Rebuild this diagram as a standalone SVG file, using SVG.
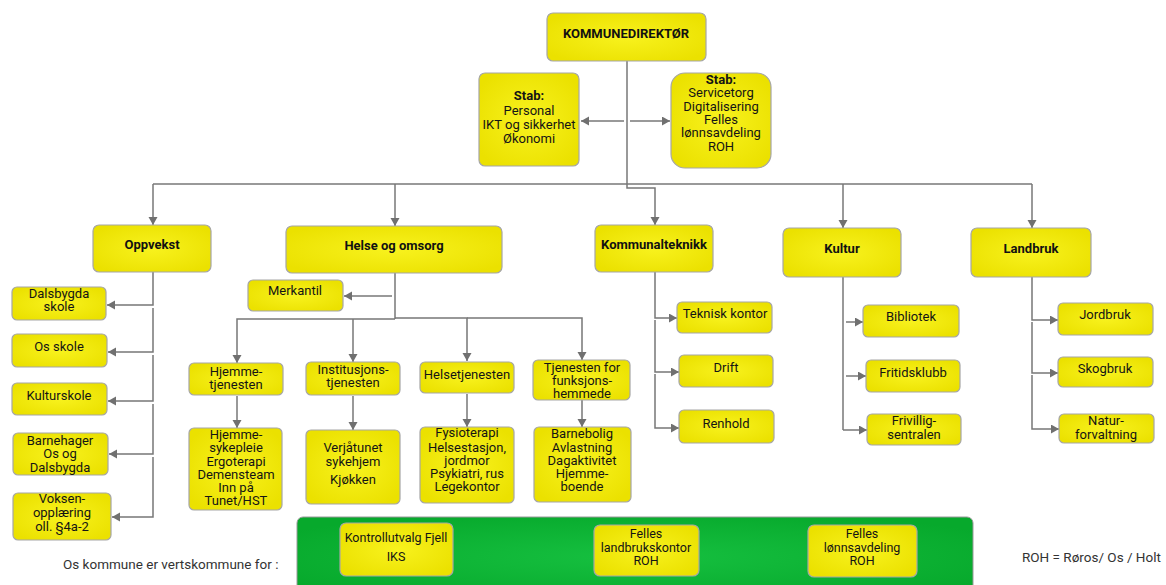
<svg xmlns="http://www.w3.org/2000/svg" width="1166" height="585" viewBox="0 0 1166 585">
<defs>
<radialGradient id="yg" cx="50%" cy="50%" r="60%">
<stop offset="0" stop-color="#f8f21e"/>
<stop offset="1" stop-color="#ebe100"/>
</radialGradient>
<radialGradient id="gg" cx="50%" cy="50%" r="60%">
<stop offset="0" stop-color="#16c040"/>
<stop offset="1" stop-color="#07a92c"/>
</radialGradient>
<marker id="ah" markerUnits="userSpaceOnUse" markerWidth="10" markerHeight="10" refX="8" refY="4.5" orient="auto">
<path d="M0,0 L8,4.5 L0,9 z" fill="#707070"/>
</marker>
<style>
.b{fill:url(#yg);stroke:#a6a6a6;stroke-width:1.2}
.t{font-family:Roboto,'Liberation Sans',sans-serif;font-size:13px;fill:#141414;text-anchor:middle}
.h{font-family:Roboto,'Liberation Sans',sans-serif;font-size:13px;font-weight:bold;fill:#111;text-anchor:middle}
.s{font-family:Roboto,'Liberation Sans',sans-serif;font-size:12.5px;fill:#141414;text-anchor:middle}
.n{font-family:Roboto,'Liberation Sans',sans-serif;font-size:13.5px;fill:#333}
.c path{fill:none;stroke:#777;stroke-width:1.5;marker-end:url(#ah)}
.c .p{marker-end:none}
</style>
</defs>
<rect width="1166" height="585" fill="#fff"/>

<g id="connectors" class="c">
<path class="p" d="M627,61 V184"/>
<path d="M624,121 H581"/>
<path d="M630,121 H670"/>
<path class="p" d="M153,184 H1032"/>
<path d="M153,184 V225"/>
<path d="M395,184 V226"/>
<path d="M627,184 V188 H655 V225"/>
<path d="M843,184 V228"/>
<path d="M1032,184 V228"/>
<path d="M153,272 V305 H107"/>
<path d="M153,308 V352 H108"/>
<path d="M153,355 V401 H108"/>
<path d="M153,404 V454 H109"/>
<path d="M153,457 V517 H112"/>
<path class="p" d="M395,273 V319"/>
<path d="M392,296 H344"/>
<path d="M395,319 H237 V363"/>
<path d="M353,319 V362"/>
<path d="M395,318 H467 V361"/>
<path d="M467,318 H582 V360"/>
<path d="M237,396 V428"/>
<path d="M353,396 V430"/>
<path d="M467,394 V427"/>
<path d="M582,400 V427"/>
<path d="M655,272 V318 H677"/>
<path d="M655,320 V372 H679"/>
<path d="M655,374 V428 H679"/>
<path class="p" d="M843,277 V430"/>
<path d="M846,322 H863"/>
<path d="M846,376 H866"/>
<path d="M843,430 H867"/>
<path d="M1032,277 V320 H1058"/>
<path d="M1032,322 V373 H1058"/>
<path d="M1032,375 V429 H1059"/>
</g>

<g id="kommunedirektor"><rect class="b" x="547" y="13" width="159" height="48" rx="6"/><text class="h" x="626" y="38">KOMMUNEDIREKTØR</text></g>

<g id="stab-left"><rect class="b" x="479" y="73" width="100" height="93" rx="6"/>
<text class="t" x="529" y="100" font-weight="bold">Stab:</text>
<text class="t" x="529" y="115">Personal</text>
<text class="t" x="529" y="129">IKT og sikkerhet</text>
<text class="t" x="529" y="143">Økonomi</text></g>

<g id="stab-right"><rect class="b" x="671" y="73" width="100" height="95" rx="14"/>
<text class="t" x="721" y="84" font-weight="bold">Stab:</text>
<text class="t" x="721" y="97">Servicetorg</text>
<text class="t" x="721" y="111">Digitalisering</text>
<text class="t" x="721" y="124">Felles</text>
<text class="t" x="721" y="137">lønnsavdeling</text>
<text class="t" x="721" y="151">ROH</text></g>

<g id="oppvekst"><rect class="b" x="93" y="225" width="118" height="47" rx="6"/><text class="h" x="152" y="249">Oppvekst</text></g>
<g id="helse"><rect class="b" x="286" y="226" width="216" height="47" rx="6"/><text class="h" x="394" y="250">Helse og omsorg</text></g>
<g id="kommunalteknikk"><rect class="b" x="595" y="225" width="118" height="47" rx="6"/><text class="h" x="654" y="249">Kommunalteknikk</text></g>
<g id="kultur"><rect class="b" x="783" y="228" width="118" height="49" rx="6"/><text class="h" x="842" y="253">Kultur</text></g>
<g id="landbruk"><rect class="b" x="971" y="228" width="120" height="49" rx="6"/><text class="h" x="1031" y="253">Landbruk</text></g>

<g id="dalsbygda-skole"><rect class="b" x="12" y="287" width="94" height="33" rx="5"/><text class="t" x="59" y="298">Dalsbygda</text><text class="t" x="59" y="311">skole</text></g>
<g id="os-skole"><rect class="b" x="12" y="334" width="95" height="33" rx="5"/><text class="t" x="59" y="351">Os skole</text></g>
<g id="kulturskole"><rect class="b" x="12" y="383" width="95" height="32" rx="5"/><text class="t" x="59" y="400">Kulturskole</text></g>
<g id="barnehager"><rect class="b" x="13" y="433" width="95" height="42" rx="5"/><text class="t" x="60" y="445">Barnehager</text><text class="t" x="60" y="458">Os og</text><text class="t" x="60" y="472">Dalsbygda</text></g>
<g id="voksenopplaering"><rect class="b" x="13" y="493" width="98" height="47" rx="5"/><text class="t" x="62" y="503">Voksen-</text><text class="t" x="62" y="517">opplæring</text><text class="t" x="62" y="531">oll. §4a-2</text></g>

<g id="merkantil"><rect class="b" x="248" y="280" width="95" height="31" rx="5"/><text class="t" x="295" y="295">Merkantil</text></g>

<g id="hjemmetjenesten"><rect class="b" x="189" y="363" width="94" height="32" rx="5"/><text class="t" x="236" y="376">Hjemme-</text><text class="t" x="236" y="389">tjenesten</text></g>
<g id="institusjonstjenesten"><rect class="b" x="306" y="362" width="94" height="33" rx="5"/><text class="t" x="353" y="374">Institusjons-</text><text class="t" x="353" y="387">tjenesten</text></g>
<g id="helsetjenesten"><rect class="b" x="420" y="362" width="94" height="31" rx="5"/><text class="t" x="467" y="379">Helsetjenesten</text></g>
<g id="funksjonshemmede"><rect class="b" x="533" y="360" width="97" height="40" rx="5"/><text class="t" x="582" y="372">Tjenesten for</text><text class="t" x="582" y="385">funksjons-</text><text class="t" x="582" y="398">hemmede</text></g>

<g id="hjemmesykepleie"><rect class="b" x="189" y="428" width="93" height="82" rx="5"/>
<text class="t" x="236" y="439">Hjemme-</text><text class="t" x="236" y="452">sykepleie</text><text class="t" x="236" y="466">Ergoterapi</text><text class="t" x="236" y="479">Demensteam</text><text class="t" x="236" y="492">Inn på</text><text class="t" x="236" y="505">Tunet/HST</text></g>
<g id="verjatunet"><rect class="b" x="306" y="430" width="94" height="74" rx="5"/>
<text class="t" x="353" y="452">Verjåtunet</text><text class="t" x="353" y="466">sykehjem</text><text class="t" x="353" y="484">Kjøkken</text></g>
<g id="fysioterapi"><rect class="b" x="420" y="427" width="94" height="76" rx="5"/>
<text class="t" x="467" y="437">Fysioterapi</text><text class="t" x="467" y="452">Helsestasjon,</text><text class="t" x="467" y="465">jordmor</text><text class="t" x="467" y="478">Psykiatri, rus</text><text class="t" x="467" y="491">Legekontor</text></g>
<g id="barnebolig"><rect class="b" x="534" y="427" width="97" height="75" rx="5"/>
<text class="t" x="582" y="438">Barnebolig</text><text class="t" x="582" y="452">Avlastning</text><text class="t" x="582" y="465">Dagaktivitet</text><text class="t" x="582" y="478">Hjemme-</text><text class="t" x="582" y="491">boende</text></g>

<g id="teknisk-kontor"><rect class="b" x="677" y="302" width="95" height="31" rx="5"/><text class="t" x="725" y="318">Teknisk kontor</text></g>
<g id="drift"><rect class="b" x="679" y="355" width="94" height="32" rx="5"/><text class="t" x="726" y="372">Drift</text></g>
<g id="renhold"><rect class="b" x="679" y="410" width="95" height="33" rx="5"/><text class="t" x="726" y="428">Renhold</text></g>

<g id="bibliotek"><rect class="b" x="863" y="305" width="96" height="32" rx="5"/><text class="t" x="911" y="321">Bibliotek</text></g>
<g id="fritidsklubb"><rect class="b" x="866" y="360" width="94" height="32" rx="5"/><text class="t" x="913" y="377">Fritidsklubb</text></g>
<g id="frivilligsentralen"><rect class="b" x="867" y="414" width="94" height="31" rx="5"/><text class="t" x="914" y="425">Frivillig-</text><text class="t" x="914" y="439">sentralen</text></g>

<g id="jordbruk"><rect class="b" x="1058" y="303" width="95" height="32" rx="5"/><text class="t" x="1105" y="319">Jordbruk</text></g>
<g id="skogbruk"><rect class="b" x="1058" y="357" width="95" height="30" rx="5"/><text class="t" x="1105" y="373">Skogbruk</text></g>
<g id="naturforvaltning"><rect class="b" x="1059" y="414" width="95" height="29" rx="5"/><text class="t" x="1106" y="425">Natur-</text><text class="t" x="1106" y="439">forvaltning</text></g>

<g id="vertskommune">
<rect x="297" y="517" width="676" height="80" rx="6" fill="url(#gg)" stroke="#9a9a9a" stroke-width="1"/>
</g>
<g id="kontrollutvalg"><rect class="b" x="340" y="523" width="113" height="53" rx="6"/><text class="s" x="396" y="542">Kontrollutvalg Fjell</text><text class="s" x="396" y="561">IKS</text></g>
<g id="felles-landbrukskontor"><rect class="b" x="594" y="525" width="105" height="51" rx="6"/><text class="s" x="646" y="538">Felles</text><text class="s" x="646" y="552">landbrukskontor</text><text class="s" x="646" y="565">ROH</text></g>
<g id="felles-lonnsavdeling"><rect class="b" x="808" y="525" width="109" height="52" rx="6"/><text class="s" x="862" y="538">Felles</text><text class="s" x="862" y="552">lønnsavdeling</text><text class="s" x="862" y="565">ROH</text></g>

<text class="n" x="63" y="569">Os kommune er vertskommune for :</text>
<text class="n" x="1022" y="562" font-size="12.5">ROH = Røros/ Os / Holt</text>
</svg>
